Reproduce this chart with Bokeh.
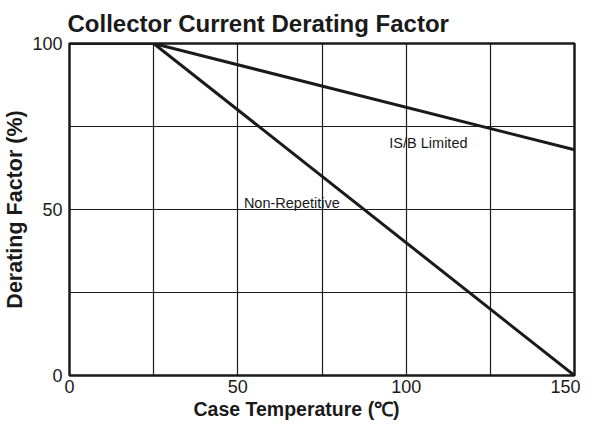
import math
from bokeh.plotting import figure
from bokeh.models import Range1d, FixedTicker, Label, Title
from bokeh.embed import file_html
from bokeh.resources import INLINE

# ---- data ----
temp_isb = [0, 25, 150]
factor_isb = [100, 100, 68]
temp_nonrep = [25, 150]
factor_nonrep = [100, 0]
x_ticks = [0, 50, 100, 150]
y_ticks = [0, 50, 100]
grid_x = [25, 50, 75, 100, 125]
grid_y = [25, 50, 75]

FONT = "Liberation Sans"
INK = "#1a1a1a"

p = figure(width=580, height=421, output_backend="svg", toolbar_location=None,
           x_range=Range1d(0, 150), y_range=Range1d(0, 100),
           min_border_left=68, min_border_right=6, min_border_top=43, min_border_bottom=46,
           title="Collector Current Derating Factor")

p.title.text_font = FONT
p.title.text_font_size = "24px"
p.title.text_font_style = "bold"
p.title.text_color = INK
p.title.align = "left"
p.title.offset = -2
p.title.standoff = 13

p.background_fill_color = "white"
p.border_fill_color = "white"
p.outline_line_color = INK
p.outline_line_width = 2.5

p.xgrid.ticker = FixedTicker(ticks=grid_x)
p.ygrid.ticker = FixedTicker(ticks=grid_y)
for g in (p.xgrid, p.ygrid):
    g.grid_line_color = INK
    g.grid_line_width = 1.2
    g.grid_line_alpha = 1.0

p.xaxis.ticker = FixedTicker(ticks=x_ticks)
p.yaxis.ticker = FixedTicker(ticks=y_ticks)
for ax in (p.xaxis, p.yaxis):
    ax.axis_line_color = None
    ax.major_tick_line_color = None
    ax.minor_tick_line_color = None
    ax.major_tick_out = 0
    ax.major_tick_in = 0
    ax.major_label_text_font = FONT
    ax.major_label_text_font_size = "18px"
    ax.major_label_text_color = INK
    ax.axis_label_text_font = FONT
    ax.axis_label_text_font_style = "bold"
    ax.axis_label_text_color = INK
p.xaxis.major_label_standoff = 4
p.yaxis.major_label_standoff = 7
p.yaxis.axis_label = "Derating Factor (%)"
p.yaxis.axis_label_text_font_size = "21.5px"
p.yaxis.axis_label_standoff = 2

xlabel = Title(text="Case Temperature (℃)", align="left", offset=124,
               text_font=FONT, text_font_size="19.5px", text_font_style="bold",
               text_color=INK, standoff=0)
p.add_layout(xlabel, "below")

p.line(temp_isb, factor_isb, line_color=INK, line_width=3)
p.line(temp_nonrep, factor_nonrep, line_color=INK, line_width=3)

p.add_layout(Label(x=95.0, y=69.9, text="IS/B Limited", text_font=FONT,
                   text_font_size="14.5px", text_color=INK, text_baseline="alphabetic"))
p.add_layout(Label(x=51.8, y=52.0, text="Non-Repetitive", text_font=FONT,
                   text_font_size="14.5px", text_color=INK, text_baseline="alphabetic"))

open("out.html", "w").write(file_html(p, INLINE))
